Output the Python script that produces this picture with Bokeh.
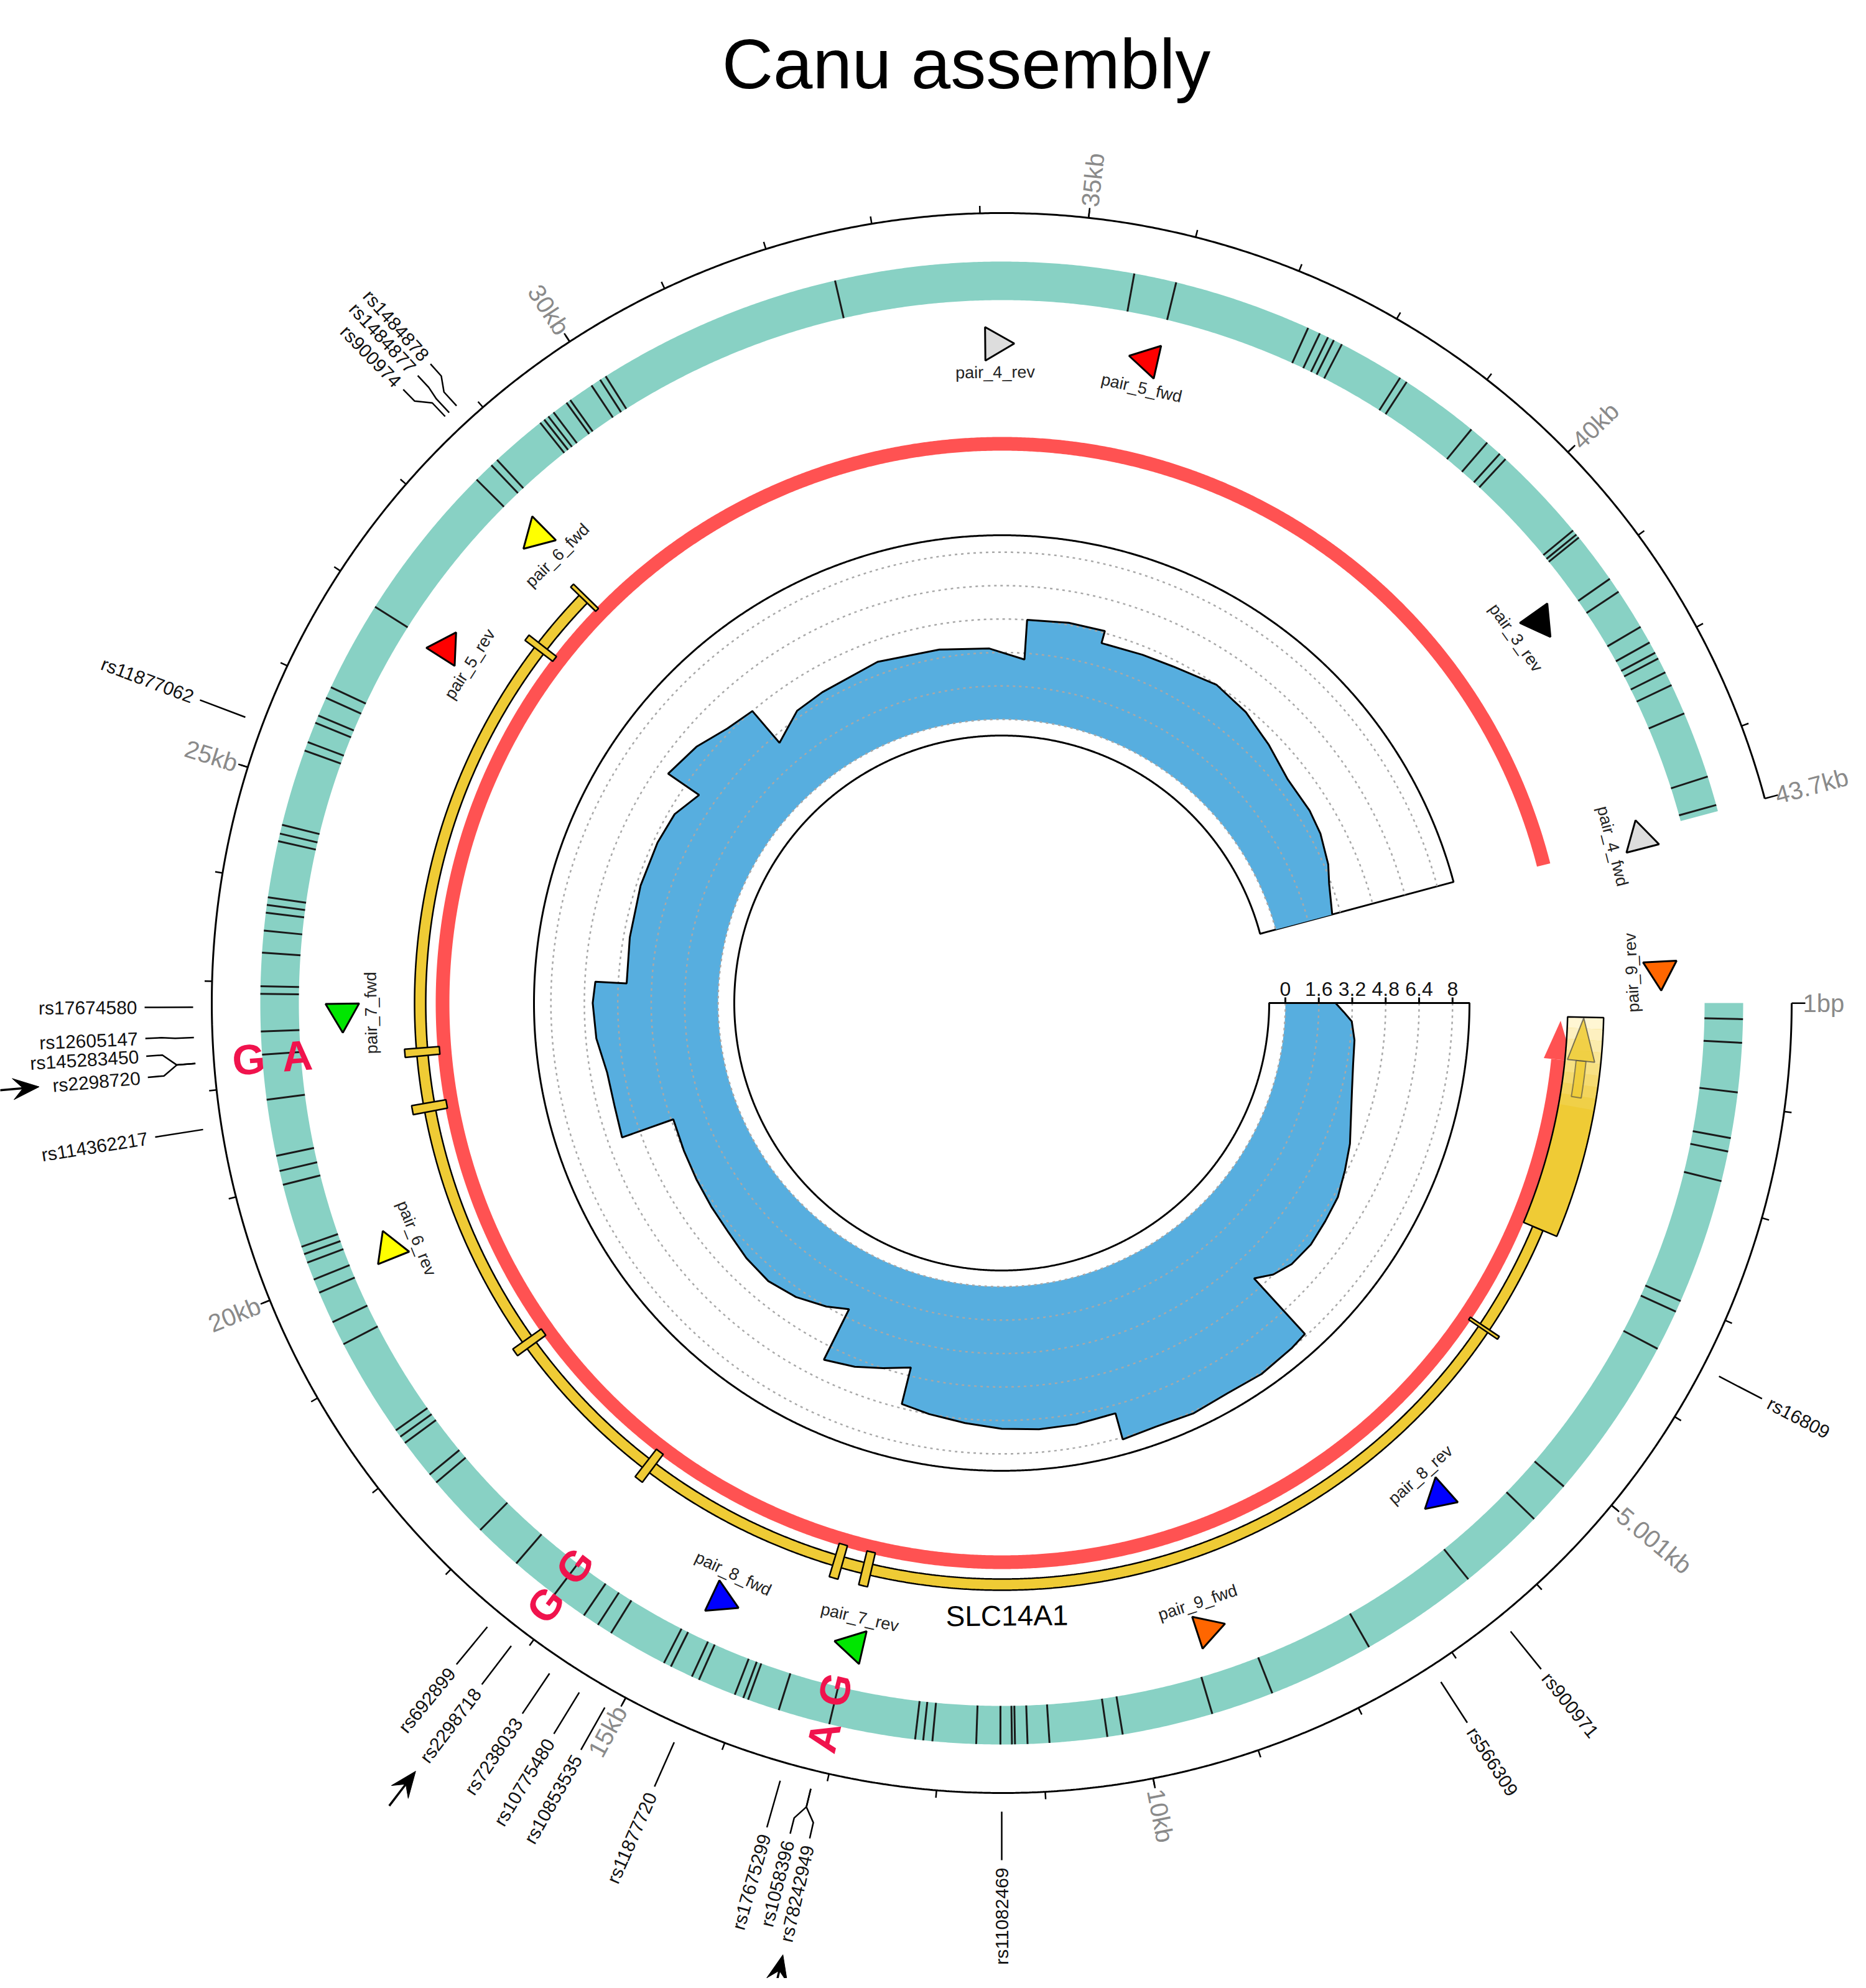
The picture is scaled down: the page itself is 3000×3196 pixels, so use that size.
import numpy as np
from bokeh.plotting import figure
from bokeh.models import Range1d
from bokeh.core.properties import value
from bokeh.embed import file_html
from bokeh.resources import INLINE

# ---------------- data ----------------
TITLE = "Canu assembly"
GENOME_LEN = 43700

scale_tick_pos = [1, 5001, 10000, 15000, 20000, 25000, 30000, 35000, 40000, 43700]
scale_tick_labels = ["1bp", "5.001kb", "10kb", "15kb", "20kb", "25kb", "30kb", "35kb", "40kb", "43.7kb"]
minor_tick_pos = list(range(1000, 43700, 1000))

variant_pos = [158, 390, 878, 1330, 1464, 1761, 3002, 3116, 3521, 5155, 5586, 6460, 7638, 8689,
               9310, 10210, 10362, 10932, 11147, 11270, 11300, 11413, 11650, 12080, 12170, 12250,
               13104, 13617, 13934, 13984, 14073, 14453, 14529, 14757, 14833, 15428, 15580, 15745,
               16099, 16581, 17062, 17696, 17797, 18190, 18266, 18342, 19330, 19570, 19887, 20026,
               20204, 20292, 20369, 21002, 21141, 21293, 21850, 22294, 22521, 22890, 22965, 23294,
               23510, 23687, 23763, 23839, 24397, 24473, 24562, 25322, 25410, 25613, 25689, 25879,
               25993, 26892, 28488, 28690, 28766, 29324, 29374, 29425, 29489, 29647, 29692, 29945,
               30046, 30110, 32554, 35505, 35924, 37292, 37418, 37507, 37571, 37659, 38317, 38393,
               39179, 39381, 39546, 39622, 40585, 40636, 40674, 41180, 41332, 41738, 41915, 42029,
               42093, 42245, 42384, 42688, 43347, 43638]

snp_names = ["rs16809", "rs900971", "rs566309", "rs11082469", "rs78242949", "rs1058396",
             "rs17675299", "rs11877720", "rs10853535", "rs10775480", "rs7238033", "rs2298718",
             "rs692899", "rs114362217", "rs2298720", "rs145283450", "rs12605147", "rs17674580",
             "rs11877062", "rs900974", "rs1484877", "rs1484878"]
snp_stem_pos = [3483, 6460, 7233, 11400, 13130, 13130, 13414, 14427, 15124, 15390, 15707, 16130,
                16404, 21660, 22256, 22256, 22490, 22763, 25422, 28690, 28740, 28830]
snp_label_pos = [3483, 6460, 7233, 11400, 13040, 13210, 13414, 14427, 15124, 15390, 15707, 16130,
                 16404, 21660, 22170, 22350, 22500, 22763, 25422, 28590, 28760, 28906]
highlighted_snps = ["rs2298720", "rs2298718", "rs78242949"]

allele_pos = [22260, 16110, 13130]
allele_outer = ["G", "G", "A"]
allele_inner = ["A", "G", "G"]

primer_names = ["pair_4_rev", "pair_5_fwd", "pair_3_rev", "pair_4_fwd", "pair_9_rev", "pair_8_rev",
                "pair_9_fwd", "pair_7_rev", "pair_8_fwd", "pair_6_rev", "pair_7_fwd", "pair_5_rev",
                "pair_6_fwd"]
primer_pos = [34125, 35823, 41117, 43776, -350, 6131, 9107, 13047, 14592, 20026, 22686, 26917, 28526]
primer_colors = ["#DDDDDD", "#FF0000", "#000000", "#DDDDDD", "#FF6600", "#0000FF", "#FF6600",
                 "#00E600", "#0000FF", "#FFFF00", "#00E600", "#FF0000", "#FFFF00"]

red_start, red_head_base, red_end = 230, 735, 43790

gene_name = "SLC14A1"
gene_name_pos = 11337
gene_backbone = (2888, 28390)
gene_last_exon = (177, 2888)
exon_starts = [4285, 13040, 13410, 16070, 18230, 21440, 22140, 27520, 28370]
exon_ends = [4325, 13150, 13520, 16180, 18330, 21550, 22240, 27600, 28420]

cov_pos = [0, 190, 380, 760, 1267, 1773, 2280, 2787, 3293, 3800, 4307, 4813, 5320, 5700, 6017,
           6017, 6333, 6967, 7600, 8233, 8867, 9437, 9437, 10133, 10767, 11400, 12033, 12667,
           13173, 13173, 13680, 14187, 14757, 14757, 15200, 15833, 16467, 17100, 17733, 18367,
           19000, 19633, 20330, 20330, 20900, 21533, 22167, 22800, 23180, 23180, 24067, 25080,
           25967, 26600, 27170, 27170, 27867, 28500, 29070, 29070, 29767, 30400, 31667, 32933,
           33947, 34680, 34680, 35467, 36163, 36163, 36987, 37620, 38507, 39267, 40027, 40787,
           41547, 42053, 42687, 43067, 43700]
cov_val = [2.4, 2.8, 3.2, 3.4, 3.5, 3.7, 4.0, 4.4, 4.7, 5.0, 5.1, 5.2, 5.1, 4.8, 4.3,
           7.9, 8.0, 8.1, 8.0, 8.1, 8.0, 8.1, 6.8, 6.9, 6.9, 6.8, 6.6, 6.4,
           6.2, 4.4, 4.8, 5.2, 5.5, 2.8, 3.2, 3.6, 3.8, 3.7, 3.5, 3.4,
           3.3, 3.2, 3.1, 5.7, 5.6, 5.6, 5.9, 6.0, 5.9, 4.4, 4.5, 4.6,
           4.6, 4.5, 4.0, 5.8, 5.5, 5.0, 4.8, 2.8, 3.5, 3.6, 3.8, 3.6,
           3.4, 2.9, 4.8, 4.9, 4.9, 4.3, 4.4, 4.5, 4.8, 4.6, 4.2, 3.8,
           3.8, 3.7, 3.4, 3.1, 2.8]
cov_ticks = [0, 1.6, 3.2, 4.8, 6.4, 8]
cov_tick_labels = ["0", "1.6", "3.2", "4.8", "6.4", "8"]

# ---------------- geometry / style ----------------
W, H = 2984, 3180
CX, CY = 1610, 1568
SPAN = 345.0
FONT = value("Liberation Sans")

R_SCALE = 1270
R_TEAL0, R_TEAL1 = 1130, 1192
R_ALLELE_OUT, R_ALLELE_IN = 1214, 1136
R_PRIMER, R_PRIMER_LABEL = 1060, 1014
R_RED0, R_RED1 = 888, 910
R_BB0, R_BB1 = 926, 944
R_EX0, R_EX1 = 907, 963
R_COV_IN, R_COV_OUT = 430, 752
R_COV_BASE, COV_UNIT = 456, 33.6
R_SNP = [1300, 1330, 1352, 1378]
R_SNP_LABEL = 1390

TEAL = "#88D1C4"
RED = "#FF5252"
YELLOW = "#EFCB35"
BLUE = "#57AEDF"
ALLELE_RED = "#F0134D"
GRAY_TXT = "#8A8A8A"


def theta_deg(pos):
    return np.asarray(pos, float) * SPAN / GENOME_LEN


def px(pos, r):
    t = np.radians(theta_deg(pos))
    return CX + r * np.cos(t), CY - r * np.sin(t)


def arc_xy(p0, p1, r, step=0.2):
    n = int(abs(theta_deg(p1) - theta_deg(p0)) / step) + 2
    ps = np.linspace(p0, p1, n)
    return px(ps, r)


def sector_xy(p0, p1, r0, r1):
    xo, yo = arc_xy(p0, p1, r1)
    xi, yi = arc_xy(p1, p0, r0)
    return list(np.concatenate([xo, xi])), list(np.concatenate([yo, yi]))


p = figure(width=W, height=H, x_range=Range1d(0, W), y_range=Range1d(0, H),
           output_backend="svg", toolbar_location=None, min_border=0,
           x_axis_type=None, y_axis_type=None, title=None)
p.grid.visible = False
p.outline_line_color = None
p.background_fill_color = "white"
p.border_fill_color = "white"


def radial_text(poss, r, texts, size, color, style="normal", center=False):
    groups = {}
    for ps, t in zip(poss, texts):
        th = float(theta_deg(ps)) % 360
        if 90 <= th < 270:
            d, al = th - 180, "right"
        else:
            d, al = th, "left"
        if center:
            al = "center"
        x, y = px(ps, r)
        g = groups.setdefault(al, ([], [], [], []))
        g[0].append(float(x)); g[1].append(float(y)); g[2].append(t); g[3].append(-np.radians(d))
    for al, (xs, ys, ts, an) in groups.items():
        p.text(x=xs, y=ys, text=ts, angle=an, text_align=al, text_baseline="middle",
               text_font=FONT, text_font_size=size, text_color=color, text_font_style=style)


def tangent_angle(ps):
    th = float(theta_deg(ps)) % 360
    d = (th + 90) % 360
    if 85 <= d < 265:
        d -= 180
    return -np.radians(d)


# ---------------- title ----------------
p.text(x=[1553], y=[3078], text=[TITLE], text_align="center", text_baseline="alphabetic",
       text_font=FONT, text_font_size="114px", text_color="black")

# ---------------- scale ----------------
sx, sy = arc_xy(1, GENOME_LEN, R_SCALE)
p.line(list(sx), list(sy), line_color="black", line_width=3)
mx, my = [], []
for ps in minor_tick_pos:
    x0, y0 = px(ps, R_SCALE); x1, y1 = px(ps, R_SCALE + 12)
    mx.append([float(x0), float(x1)]); my.append([float(y0), float(y1)])
for ps in scale_tick_pos:
    L = 22 if ps in (1, GENOME_LEN) else 16
    x0, y0 = px(ps, R_SCALE); x1, y1 = px(ps, R_SCALE + L)
    mx.append([float(x0), float(x1)]); my.append([float(y0), float(y1)])
p.multi_line(mx, my, line_color="black", line_width=2.5)
radial_text(scale_tick_pos, R_SCALE + 18, scale_tick_labels, "40px", GRAY_TXT)

# ---------------- variant track ----------------
tx, ty = sector_xy(0, GENOME_LEN, R_TEAL0, R_TEAL1)
p.patch(tx, ty, fill_color=TEAL, line_color=None)
vx, vy = [], []
for ps in variant_pos:
    x0, y0 = px(ps, R_TEAL0); x1, y1 = px(ps, R_TEAL1)
    vx.append([float(x0), float(x1)]); vy.append([float(y0), float(y1)])
p.multi_line(vx, vy, line_color="#1a1a1a", line_width=3)

# allele letters
radial_text(allele_pos, R_ALLELE_OUT, allele_outer, "68px", ALLELE_RED, style="bold", center=True)
radial_text(allele_pos, R_ALLELE_IN, allele_inner, "68px", ALLELE_RED, style="bold", center=True)

# ---------------- SNP labels ----------------
lx, ly = [], []
for s, l in zip(snp_stem_pos, snp_label_pos):
    pts = [(s, R_SNP[0]), (s, R_SNP[1]), (l, R_SNP[2]), (l, R_SNP[3])] if s != l else \
          [(s, R_SNP[0]), (s, R_SNP[3])]
    xs = [float(px(a, b)[0]) for a, b in pts]
    ys = [float(px(a, b)[1]) for a, b in pts]
    lx.append(xs); ly.append(ys)
p.multi_line(lx, ly, line_color="black", line_width=2.5)
radial_text(snp_label_pos, R_SNP_LABEL, snp_names, "30px", "#111111")

# arrows pointing at highlighted SNP labels
for name in highlighted_snps:
    i = snp_names.index(name)
    ps = snp_label_pos[i]
    r_tip = R_SNP_LABEL + 16.6 * len(name) + 14
    t = np.radians(float(theta_deg(ps)))
    ux, uy = np.cos(t), -np.sin(t)          # outward unit vector (data coords)
    nx_, ny_ = -uy, ux
    tipx, tipy = CX + r_tip * ux, CY + r_tip * uy
    L, w = 42, 17
    bx, by = tipx + L * ux, tipy + L * uy
    notchx, notchy = tipx + 0.62 * L * ux, tipy + 0.62 * L * uy
    p.patch([tipx, bx + w * nx_, notchx, bx - w * nx_], [tipy, by + w * ny_, notchy, by - w * ny_],
            fill_color="black", line_color="black", line_width=1)
    p.line([notchx, CX + (r_tip + 70) * ux], [notchy, CY + (r_tip + 70) * uy],
           line_color="black", line_width=3.5)

# ---------------- primers ----------------
txs, tys, tang, tcol = [], [], [], []
for nm, ps, c in zip(primer_names, primer_pos, primer_colors):
    th = float(theta_deg(ps))
    apex = th + 90 if nm.endswith("rev") else th - 90
    x, y = px(ps, R_PRIMER)
    txs.append(float(x)); tys.append(float(y)); tang.append(np.radians(-apex - 90)); tcol.append(c)
p.scatter(x=txs, y=tys, marker="triangle", size=54, angle=tang, fill_color=tcol,
          line_color="black", line_width=3)
for nm, ps in zip(primer_names, primer_pos):
    x, y = px(ps, R_PRIMER_LABEL)
    p.text(x=[float(x)], y=[float(y)], text=[nm], angle=[tangent_angle(ps)], text_align="center",
           text_baseline="middle", text_font=FONT, text_font_size="27px", text_color="#222222")

# ---------------- red strand arc ----------------
rx, ry = sector_xy(red_head_base, red_end, R_RED0, R_RED1)
p.patch(rx, ry, fill_color=RED, line_color=None)
hx = [float(px(red_start, (R_RED0 + R_RED1) / 2)[0]), float(px(red_head_base, R_RED0 - 12)[0]),
      float(px(red_head_base, R_RED1 + 12)[0])]
hy = [float(px(red_start, (R_RED0 + R_RED1) / 2)[1]), float(px(red_head_base, R_RED0 - 12)[1]),
      float(px(red_head_base, R_RED1 + 12)[1])]
p.patch(hx, hy, fill_color=RED, line_color=None)

# ---------------- gene ----------------
bx_, by_ = sector_xy(gene_backbone[0], gene_backbone[1], R_BB0, R_BB1)
p.patch(bx_, by_, fill_color=YELLOW, line_color="black", line_width=2.5)
ex_x, ex_y = [], []
for s, e in zip(exon_starts, exon_ends):
    a, b = sector_xy(s, e, R_EX0, R_EX1)
    ex_x.append(a); ex_y.append(b)
p.patches(ex_x, ex_y, fill_color=YELLOW, line_color="black", line_width=2.5)
gx, gy = sector_xy(gene_last_exon[0], gene_last_exon[1], R_EX0 + 3, R_EX1 + 5)
p.patch(gx, gy, fill_color=YELLOW, line_color=None)
grad = np.linspace(gene_last_exon[0], 1300, 9)
for k in range(len(grad) - 1):
    a, b = sector_xy(grad[k], grad[k + 1], R_EX0 + 3, R_EX1 + 5)
    p.patch(a, b, fill_color="#FFF8DC", fill_alpha=0.95 * (1 - k / (len(grad) - 1)), line_color=None)
# arrow inside last exon
ax_, ay_ = sector_xy(722, 1180, 928, 944)
p.patch(ax_, ay_, fill_color=YELLOW, fill_alpha=0.85, line_color="#444444", line_alpha=0.6, line_width=2)
ahx = [float(px(gene_last_exon[0] + 10, 936)[0]), float(px(722, 914)[0]), float(px(722, 958)[0])]
ahy = [float(px(gene_last_exon[0] + 10, 936)[1]), float(px(722, 914)[1]), float(px(722, 958)[1])]
p.patch(ahx, ahy, fill_color=YELLOW, fill_alpha=0.85, line_color="#444444", line_alpha=0.7, line_width=2)
p.patch(gx, gy, fill_color=None, line_color="black", line_width=2.5)
gnx, gny = px(gene_name_pos, 985)
p.text(x=[float(gnx)], y=[float(gny)], text=[gene_name], angle=[tangent_angle(gene_name_pos)],
       text_align="center", text_baseline="middle", text_font=FONT, text_font_size="46px",
       text_color="black")

# ---------------- coverage ----------------
cx_, cy_ = sector_xy(0, GENOME_LEN, R_COV_IN, R_COV_OUT)
p.patch(cx_, cy_, fill_color="white", line_color="black", line_width=3)
r_cov = R_COV_BASE + COV_UNIT * np.asarray(cov_val)
ox, oy = px(cov_pos, r_cov)
ix, iy = arc_xy(GENOME_LEN, 0, R_COV_BASE)
p.patch(list(np.concatenate([ox, ix])), list(np.concatenate([oy, iy])), fill_color=BLUE, line_color=None)
for v in cov_ticks:
    gxx, gyy = arc_xy(0, GENOME_LEN, R_COV_BASE + COV_UNIT * v)
    p.line(list(gxx), list(gyy), line_color="#A8A8A8", line_width=2.5, line_dash="4 6")
p.line(list(ox), list(oy), line_color="black", line_width=3)
# axis on the start edge
tkx, tky = [], []
for v in cov_ticks:
    r = R_COV_BASE + COV_UNIT * v
    tkx.append([CX + r, CX + r]); tky.append([CY, CY + 9])
p.multi_line(tkx, tky, line_color="black", line_width=3)
p.line([CX + R_COV_IN, CX + R_COV_OUT], [CY, CY], line_color="black", line_width=3)
p.text(x=[CX + R_COV_BASE + COV_UNIT * v for v in cov_ticks], y=[CY + 12] * len(cov_ticks),
       text=cov_tick_labels, text_align="center", text_baseline="bottom", text_font=FONT,
       text_font_size="32px", text_color="#111111")

open("out.html", "w").write(file_html(p, INLINE))
